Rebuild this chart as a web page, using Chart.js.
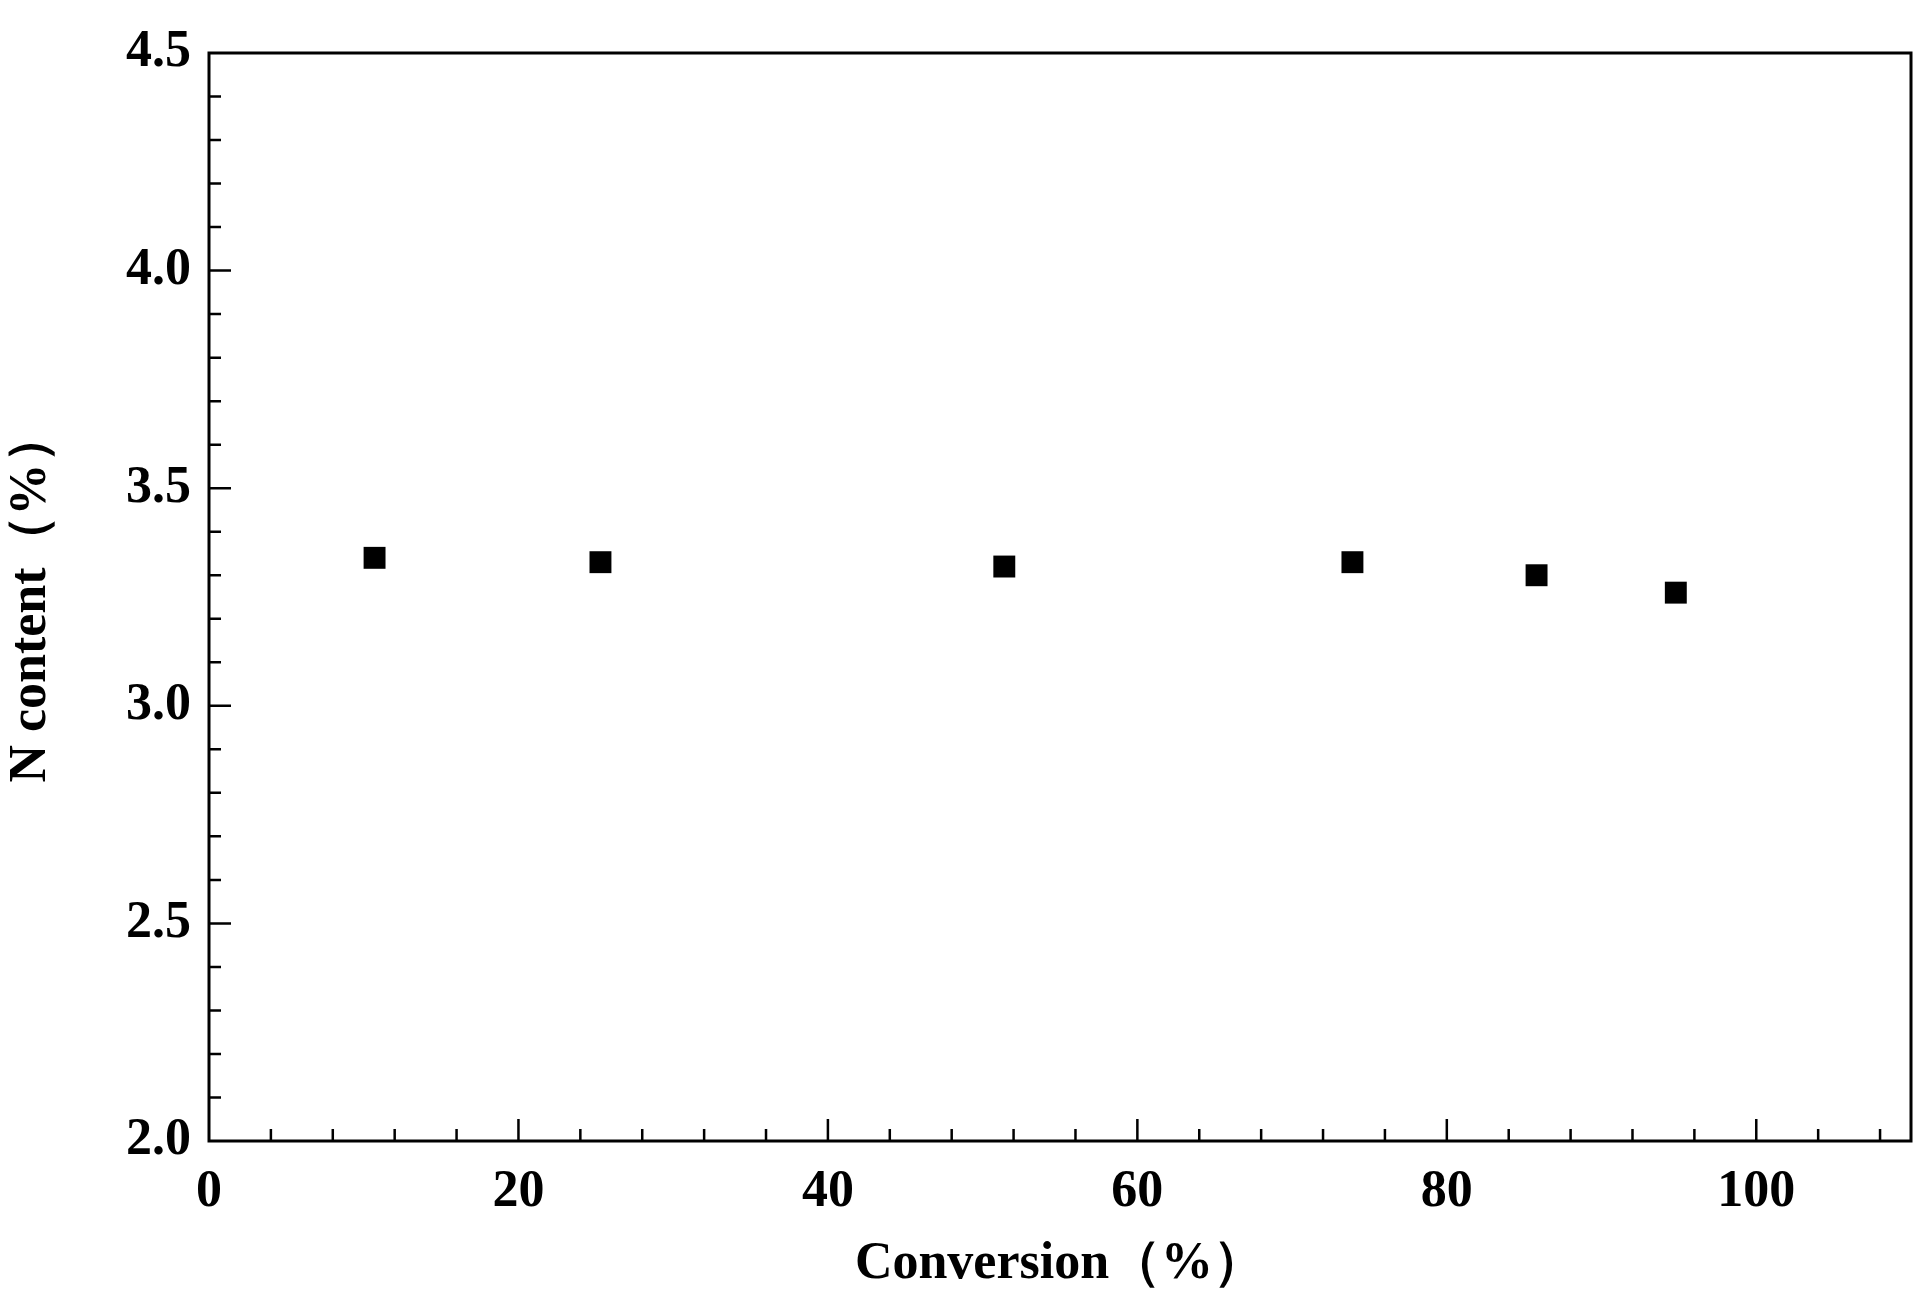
<!DOCTYPE html>
<html><head><meta charset="utf-8">
<script src="https://cdn.jsdelivr.net/npm/chart.js@4"></script>
<style>html,body{margin:0;padding:0;background:#fff}#w{width:1928px;height:1296px}</style>
</head><body><div id="w"><canvas id="c"></canvas></div>
<script>
const conversion = [10.7, 25.3, 51.4, 73.9, 85.8, 94.8];
const nContent = [3.34, 3.33, 3.32, 3.33, 3.30, 3.26];
const xTicks = [0, 20, 40, 60, 80, 100];
const yTicks = [2.0, 2.5, 3.0, 3.5, 4.0, 4.5];
const font = {family: '"Liberation Serif", "Times New Roman", serif', weight: 'bold', size: 52};

const frame = {
  id: 'frame',
  afterDraw(chart) {
    const {ctx, chartArea: a, scales: {x, y}} = chart;
    ctx.save();
    ctx.strokeStyle = '#000'; ctx.lineWidth = 3;
    ctx.strokeRect(a.left, a.top, a.right - a.left, a.bottom - a.top);
    ctx.lineWidth = 2.5;
    ctx.beginPath();
    for (let v = 0; v <= 110; v += 4) {
      const px = x.getPixelForValue(v);
      if (px <= a.left + 1 || px >= a.right - 1) continue;
      const len = v % 20 === 0 ? 22 : 12;
      ctx.moveTo(px, a.bottom); ctx.lineTo(px, a.bottom - len);
    }
    for (let i = 0; i <= 25; i++) {
      const v = 2 + i * 0.1;
      const py = y.getPixelForValue(v);
      if (py <= a.top + 1 || py >= a.bottom - 1) continue;
      const len = i % 5 === 0 ? 22 : 12;
      ctx.moveTo(a.left, py); ctx.lineTo(a.left + len, py);
    }
    ctx.stroke();
    ctx.restore();
  }
};

new Chart(document.getElementById('c'), {
  type: 'scatter',
  data: {datasets: [{
    data: conversion.map((v, i) => ({x: v, y: nContent[i]})),
    pointStyle: 'rect', pointRadius: 15.5, pointHoverRadius: 15.5,
    backgroundColor: '#000', borderColor: '#000', borderWidth: 0
  }]},
  options: {
    responsive: true, maintainAspectRatio: false, animation: false,
    layout: {padding: {top: 53, right: 17, left: 0, bottom: 0}},
    plugins: {legend: {display: false}, tooltip: {enabled: false}},
    scales: {
      x: {
        type: 'linear', min: 0, max: 110,
        afterBuildTicks: s => { s.ticks = xTicks.map(v => ({value: v})); },
        afterFit: s => { s.height = 155; },
        grid: {display: false}, border: {display: false},
        ticks: {color: '#000', font, padding: 12, maxRotation: 0},
        title: {display: true, text: 'Conversion（%）', color: '#000', font, padding: {top: -14, bottom: 0}}
      },
      y: {
        type: 'linear', min: 2.0, max: 4.5,
        afterBuildTicks: s => { s.ticks = yTicks.map(v => ({value: v})); },
        afterFit: s => { s.width = 209; },
        grid: {display: false}, border: {display: false},
        ticks: {color: '#000', font, padding: 10, callback: v => Number(v).toFixed(1)},
        title: {display: true, text: 'N content（%）', color: '#000', font, padding: {top: 0, bottom: 6}}
      }
    }
  },
  plugins: [frame]
});
</script></body></html>
